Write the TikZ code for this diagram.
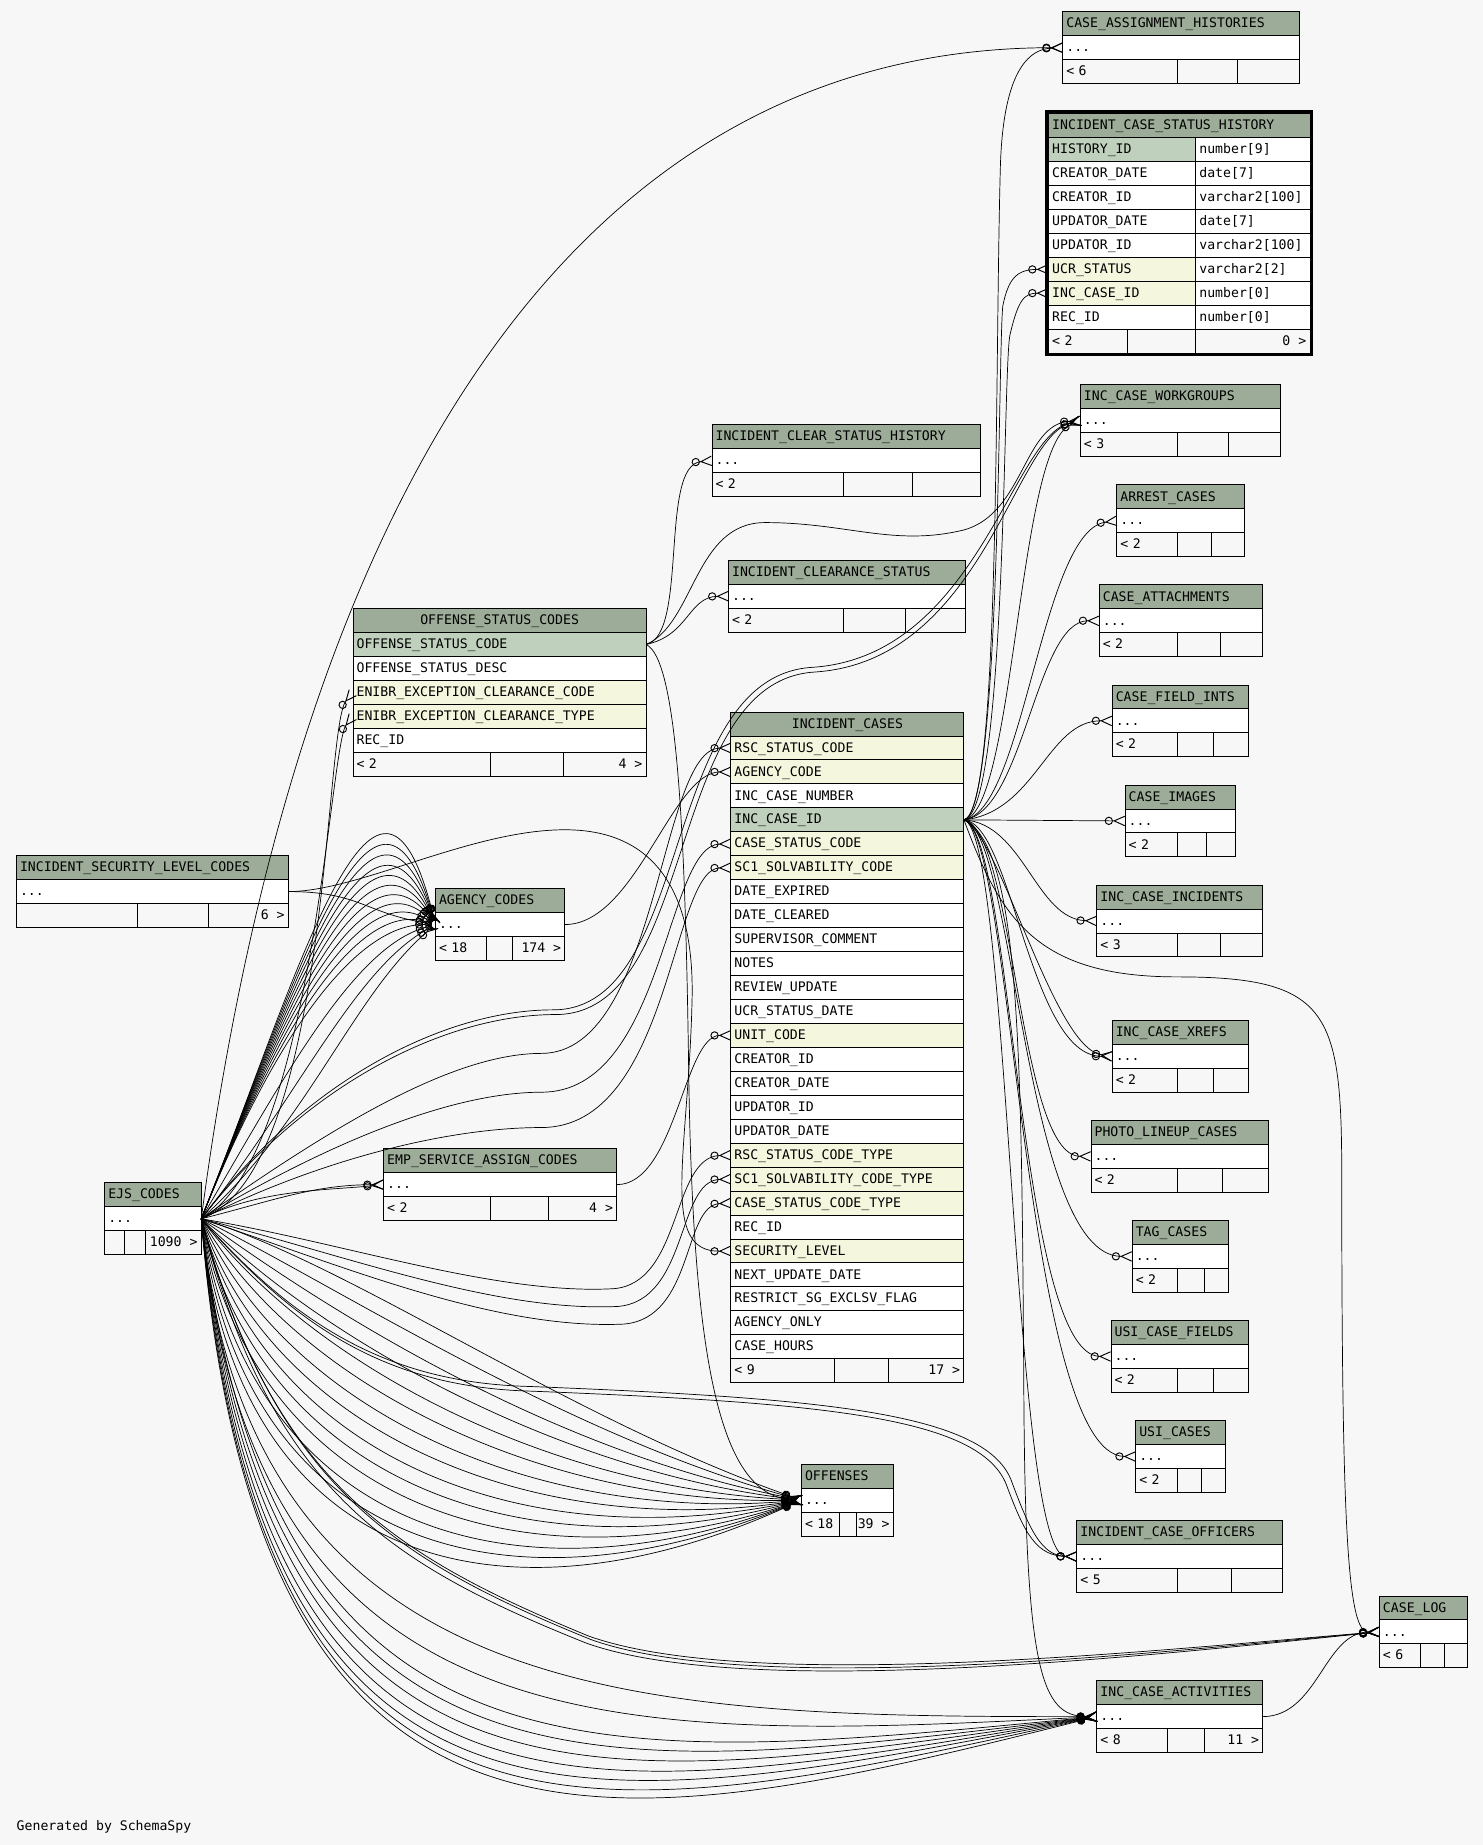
\documentclass[tikz,border=0pt]{standalone}
\usepackage{fontspec}
\setmonofont{DejaVu Sans Mono}
\usetikzlibrary{arrows.meta}
\definecolor{bgc}{HTML}{F7F7F7}
\definecolor{hdrc}{HTML}{9DAC98}
\definecolor{pkc}{HTML}{BFD1BC}
\definecolor{fkc}{HTML}{F4F6DD}
\tikzset{
  cell/.style={draw, line width=0.8pt, fill=white, anchor=north west, outer sep=0pt,
    minimum height=20.35pt, inner xsep=3pt, inner ysep=0pt, text height=8pt, text depth=1pt,
    /utils/exec={\pgfmathsetlengthmacro\cellw{#1-6pt}}, text width=\cellw, align=left},
  hdr/.style={cell=#1, fill=hdrc},
  pk/.style={cell=#1, fill=pkc},
  fkrow/.style={cell=#1, fill=fkc},
  foot/.style={cell=#1, fill=bgc},
  rtext/.style={anchor=east, inner xsep=3pt, inner ysep=0pt, text height=8pt, text depth=1pt},
  divl/.style={line width=0.8pt},
  crow/.style={line width=0.6pt,
    -{Circle[open,length=7pt,width=7pt,line width=0.8pt]Straight Barb[reversed,length=9pt,width=8pt,line width=0.8pt]}}
}
\begin{document}
\begin{tikzpicture}[x=1pt, y=-1pt, font=\ttfamily\fontsize{11.2}{13}\selectfont]
  \useasboundingbox (0,0) rectangle (1260,1567.6);
  \fill[bgc] (0,0) rectangle (1260,1567.6);

  % CASE_ASSIGNMENT_HISTORIES
  \node[hdr=201] (cah1) at (903,10) {CASE\_ASSIGNMENT\_HISTORIES};
  \node[cell=201] (cah2) at (cah1.south west) {...};
  \node[foot=201] (cah3) at (cah2.south west) {< 6};
  \draw[divl] (1000,0 |- cah3.north) -- (1000,0 |- cah3.south);
  \draw[divl] (1051,0 |- cah3.north) -- (1051,0 |- cah3.south);

  % INCIDENT_CASE_STATUS_HISTORY
  \node[hdr=222] (icsh1) at (891,96.5) {INCIDENT\_CASE\_STATUS\_HISTORY};
  \node[pk=125] (icsh2) at (icsh1.south west) {HISTORY\_ID};
  \node[cell=97] (icsh2t) at (icsh2.north east) {number[9]};
  \node[cell=125] (icsh3) at (icsh2.south west) {CREATOR\_DATE};
  \node[cell=97] (icsh3t) at (icsh3.north east) {date[7]};
  \node[cell=125] (icsh4) at (icsh3.south west) {CREATOR\_ID};
  \node[cell=97] (icsh4t) at (icsh4.north east) {varchar2[100]};
  \node[cell=125] (icsh5) at (icsh4.south west) {UPDATOR\_DATE};
  \node[cell=97] (icsh5t) at (icsh5.north east) {date[7]};
  \node[cell=125] (icsh6) at (icsh5.south west) {UPDATOR\_ID};
  \node[cell=97] (icsh6t) at (icsh6.north east) {varchar2[100]};
  \node[fkrow=125] (icsh7) at (icsh6.south west) {UCR\_STATUS};
  \node[cell=97] (icsh7t) at (icsh7.north east) {varchar2[2]};
  \node[fkrow=125] (icsh8) at (icsh7.south west) {INC\_CASE\_ID};
  \node[cell=97] (icsh8t) at (icsh8.north east) {number[0]};
  \node[cell=125] (icsh9) at (icsh8.south west) {REC\_ID};
  \node[cell=97] (icsh9t) at (icsh9.north east) {number[0]};
  \node[foot=222] (icsh10) at (icsh9.south west) {< 2};
  \node[rtext] (icsh10r) at (icsh10.east) {0 >};
  \draw[divl] (958,0 |- icsh10.north) -- (958,0 |- icsh10.south);
  \draw[divl] (1016,0 |- icsh10.north) -- (1016,0 |- icsh10.south);
  \draw[line width=2.8pt] ([shift={(-1.4,-1.4)}]icsh1.north west) rectangle ([shift={(1.4,1.4)}]icsh10.south east);

  % INC_CASE_WORKGROUPS
  \node[hdr=170] (icw1) at (918,327) {INC\_CASE\_WORKGROUPS};
  \node[cell=170] (icw2) at (icw1.south west) {...};
  \node[foot=170] (icw3) at (icw2.south west) {< 3};
  \draw[divl] (1000,0 |- icw3.north) -- (1000,0 |- icw3.south);
  \draw[divl] (1044,0 |- icw3.north) -- (1044,0 |- icw3.south);

  % INCIDENT_CLEAR_STATUS_HISTORY
  \node[hdr=228] (iclsh1) at (605,361) {INCIDENT\_CLEAR\_STATUS\_HISTORY};
  \node[cell=228] (iclsh2) at (iclsh1.south west) {...};
  \node[foot=228] (iclsh3) at (iclsh2.south west) {< 2};
  \draw[divl] (717,0 |- iclsh3.north) -- (717,0 |- iclsh3.south);
  \draw[divl] (775,0 |- iclsh3.north) -- (775,0 |- iclsh3.south);

  % ARREST_CASES
  \node[hdr=108] (arrest1) at (949,412) {ARREST\_CASES};
  \node[cell=108] (arrest2) at (arrest1.south west) {...};
  \node[foot=108] (arrest3) at (arrest2.south west) {< 2};
  \draw[divl] (1000,0 |- arrest3.north) -- (1000,0 |- arrest3.south);
  \draw[divl] (1029,0 |- arrest3.north) -- (1029,0 |- arrest3.south);

  % INCIDENT_CLEARANCE_STATUS
  \node[hdr=201] (iclrs1) at (619,476) {INCIDENT\_CLEARANCE\_STATUS};
  \node[cell=201] (iclrs2) at (iclrs1.south west) {...};
  \node[foot=201] (iclrs3) at (iclrs2.south west) {< 2};
  \draw[divl] (717,0 |- iclrs3.north) -- (717,0 |- iclrs3.south);
  \draw[divl] (769,0 |- iclrs3.north) -- (769,0 |- iclrs3.south);

  % CASE_ATTACHMENTS
  \node[hdr=139] (catt1) at (934,497) {CASE\_ATTACHMENTS};
  \node[cell=139] (catt2) at (catt1.south west) {...};
  \node[foot=139] (catt3) at (catt2.south west) {< 2};
  \draw[divl] (1000,0 |- catt3.north) -- (1000,0 |- catt3.south);
  \draw[divl] (1037,0 |- catt3.north) -- (1037,0 |- catt3.south);

  % OFFENSE_STATUS_CODES
  \node[hdr=249, align=center] (osc1) at (300,517) {OFFENSE\_STATUS\_CODES};
  \node[pk=249] (osc2) at (osc1.south west) {OFFENSE\_STATUS\_CODE};
  \node[cell=249] (osc3) at (osc2.south west) {OFFENSE\_STATUS\_DESC};
  \node[fkrow=249] (osc4) at (osc3.south west) {ENIBR\_EXCEPTION\_CLEARANCE\_CODE};
  \node[fkrow=249] (osc5) at (osc4.south west) {ENIBR\_EXCEPTION\_CLEARANCE\_TYPE};
  \node[cell=249] (osc6) at (osc5.south west) {REC\_ID};
  \node[foot=249] (osc7) at (osc6.south west) {< 2};
  \node[rtext] (osc7r) at (osc7.east) {4 >};
  \draw[divl] (417,0 |- osc7.north) -- (417,0 |- osc7.south);
  \draw[divl] (479,0 |- osc7.north) -- (479,0 |- osc7.south);

  % CASE_FIELD_INTS
  \node[hdr=116] (cfi1) at (945,582) {CASE\_FIELD\_INTS};
  \node[cell=116] (cfi2) at (cfi1.south west) {...};
  \node[foot=116] (cfi3) at (cfi2.south west) {< 2};
  \draw[divl] (1000,0 |- cfi3.north) -- (1000,0 |- cfi3.south);
  \draw[divl] (1031,0 |- cfi3.north) -- (1031,0 |- cfi3.south);

  % INCIDENT_CASES
  \node[hdr=198, align=center] (ic1) at (621,605) {INCIDENT\_CASES};
  \node[fkrow=198] (ic2) at (ic1.south west) {RSC\_STATUS\_CODE};
  \node[fkrow=198] (ic3) at (ic2.south west) {AGENCY\_CODE};
  \node[cell=198] (ic4) at (ic3.south west) {INC\_CASE\_NUMBER};
  \node[pk=198] (ic5) at (ic4.south west) {INC\_CASE\_ID};
  \node[fkrow=198] (ic6) at (ic5.south west) {CASE\_STATUS\_CODE};
  \node[fkrow=198] (ic7) at (ic6.south west) {SC1\_SOLVABILITY\_CODE};
  \node[cell=198] (ic8) at (ic7.south west) {DATE\_EXPIRED};
  \node[cell=198] (ic9) at (ic8.south west) {DATE\_CLEARED};
  \node[cell=198] (ic10) at (ic9.south west) {SUPERVISOR\_COMMENT};
  \node[cell=198] (ic11) at (ic10.south west) {NOTES};
  \node[cell=198] (ic12) at (ic11.south west) {REVIEW\_UPDATE};
  \node[cell=198] (ic13) at (ic12.south west) {UCR\_STATUS\_DATE};
  \node[fkrow=198] (ic14) at (ic13.south west) {UNIT\_CODE};
  \node[cell=198] (ic15) at (ic14.south west) {CREATOR\_ID};
  \node[cell=198] (ic16) at (ic15.south west) {CREATOR\_DATE};
  \node[cell=198] (ic17) at (ic16.south west) {UPDATOR\_ID};
  \node[cell=198] (ic18) at (ic17.south west) {UPDATOR\_DATE};
  \node[fkrow=198] (ic19) at (ic18.south west) {RSC\_STATUS\_CODE\_TYPE};
  \node[fkrow=198] (ic20) at (ic19.south west) {SC1\_SOLVABILITY\_CODE\_TYPE};
  \node[fkrow=198] (ic21) at (ic20.south west) {CASE\_STATUS\_CODE\_TYPE};
  \node[cell=198] (ic22) at (ic21.south west) {REC\_ID};
  \node[fkrow=198] (ic23) at (ic22.south west) {SECURITY\_LEVEL};
  \node[cell=198] (ic24) at (ic23.south west) {NEXT\_UPDATE\_DATE};
  \node[cell=198] (ic25) at (ic24.south west) {RESTRICT\_SG\_EXCLSV\_FLAG};
  \node[cell=198] (ic26) at (ic25.south west) {AGENCY\_ONLY};
  \node[cell=198] (ic27) at (ic26.south west) {CASE\_HOURS};
  \node[foot=198] (ic28) at (ic27.south west) {< 9};
  \node[rtext] (ic28r) at (ic28.east) {17 >};
  \draw[divl] (709,0 |- ic28.north) -- (709,0 |- ic28.south);
  \draw[divl] (755,0 |- ic28.north) -- (755,0 |- ic28.south);

  % CASE_IMAGES
  \node[hdr=94] (cimg1) at (956,667) {CASE\_IMAGES};
  \node[cell=94] (cimg2) at (cimg1.south west) {...};
  \node[foot=94] (cimg3) at (cimg2.south west) {< 2};
  \draw[divl] (1000,0 |- cimg3.north) -- (1000,0 |- cimg3.south);
  \draw[divl] (1025,0 |- cimg3.north) -- (1025,0 |- cimg3.south);

  % INCIDENT_SECURITY_LEVEL_CODES
  \node[hdr=231] (islc1) at (14,727) {INCIDENT\_SECURITY\_LEVEL\_CODES};
  \node[cell=231] (islc2) at (islc1.south west) {...};
  \node[foot=231] (islc3) at (islc2.south west) {};
  \node[rtext] (islc3r) at (islc3.east) {6 >};
  \draw[divl] (117,0 |- islc3.north) -- (117,0 |- islc3.south);
  \draw[divl] (177,0 |- islc3.north) -- (177,0 |- islc3.south);

  % AGENCY_CODES
  \node[hdr=110] (agency1) at (370,755) {AGENCY\_CODES};
  \node[cell=110] (agency2) at (agency1.south west) {...};
  \node[foot=110] (agency3) at (agency2.south west) {< 18};
  \node[rtext] (agency3r) at (agency3.east) {174 >};
  \draw[divl] (413,0 |- agency3.north) -- (413,0 |- agency3.south);
  \draw[divl] (435,0 |- agency3.north) -- (435,0 |- agency3.south);

  % INC_CASE_INCIDENTS
  \node[hdr=141] (icinc1) at (932,752) {INC\_CASE\_INCIDENTS};
  \node[cell=141] (icinc2) at (icinc1.south west) {...};
  \node[foot=141] (icinc3) at (icinc2.south west) {< 3};
  \draw[divl] (1000,0 |- icinc3.north) -- (1000,0 |- icinc3.south);
  \draw[divl] (1037,0 |- icinc3.north) -- (1037,0 |- icinc3.south);

  % INC_CASE_XREFS
  \node[hdr=116] (ixref1) at (945,867) {INC\_CASE\_XREFS};
  \node[cell=116] (ixref2) at (ixref1.south west) {...};
  \node[foot=116] (ixref3) at (ixref2.south west) {< 2};
  \draw[divl] (1000,0 |- ixref3.north) -- (1000,0 |- ixref3.south);
  \draw[divl] (1031,0 |- ixref3.north) -- (1031,0 |- ixref3.south);

  % PHOTO_LINEUP_CASES
  \node[hdr=151] (plc1) at (927,952) {PHOTO\_LINEUP\_CASES};
  \node[cell=151] (plc2) at (plc1.south west) {...};
  \node[foot=151] (plc3) at (plc2.south west) {< 2};
  \draw[divl] (1000,0 |- plc3.north) -- (1000,0 |- plc3.south);
  \draw[divl] (1039,0 |- plc3.north) -- (1039,0 |- plc3.south);

  % EMP_SERVICE_ASSIGN_CODES
  \node[hdr=198] (esac1) at (326,976) {EMP\_SERVICE\_ASSIGN\_CODES};
  \node[cell=198] (esac2) at (esac1.south west) {...};
  \node[foot=198] (esac3) at (esac2.south west) {< 2};
  \node[rtext] (esac3r) at (esac3.east) {4 >};
  \draw[divl] (417,0 |- esac3.north) -- (417,0 |- esac3.south);
  \draw[divl] (466,0 |- esac3.north) -- (466,0 |- esac3.south);

  % EJS_CODES
  \node[hdr=82] (ejs1) at (89,1005) {EJS\_CODES};
  \node[cell=82] (ejs2) at (ejs1.south west) {...};
  \node[foot=82] (ejs3) at (ejs2.south west) {};
  \node[rtext] (ejs3r) at (ejs3.east) {1090 >};
  \draw[divl] (106,0 |- ejs3.north) -- (106,0 |- ejs3.south);
  \draw[divl] (124,0 |- ejs3.north) -- (124,0 |- ejs3.south);

  % TAG_CASES
  \node[hdr=82] (tag1) at (962,1037) {TAG\_CASES};
  \node[cell=82] (tag2) at (tag1.south west) {...};
  \node[foot=82] (tag3) at (tag2.south west) {< 2};
  \draw[divl] (1000,0 |- tag3.north) -- (1000,0 |- tag3.south);
  \draw[divl] (1023,0 |- tag3.north) -- (1023,0 |- tag3.south);

  % USI_CASE_FIELDS
  \node[hdr=117] (usicf1) at (944,1122) {USI\_CASE\_FIELDS};
  \node[cell=117] (usicf2) at (usicf1.south west) {...};
  \node[foot=117] (usicf3) at (usicf2.south west) {< 2};
  \draw[divl] (1000,0 |- usicf3.north) -- (1000,0 |- usicf3.south);
  \draw[divl] (1031,0 |- usicf3.north) -- (1031,0 |- usicf3.south);

  % USI_CASES
  \node[hdr=76] (usic1) at (965,1207) {USI\_CASES};
  \node[cell=76] (usic2) at (usic1.south west) {...};
  \node[foot=76] (usic3) at (usic2.south west) {< 2};
  \draw[divl] (1000,0 |- usic3.north) -- (1000,0 |- usic3.south);
  \draw[divl] (1021,0 |- usic3.north) -- (1021,0 |- usic3.south);

  % OFFENSES
  \node[hdr=78] (off1) at (681,1244) {OFFENSES};
  \node[cell=78] (off2) at (off1.south west) {...};
  \node[foot=78] (off3) at (off2.south west) {< 18};
  \node[rtext] (off3r) at (off3.east) {39 >};
  \draw[divl] (713,0 |- off3.north) -- (713,0 |- off3.south);
  \draw[divl] (728,0 |- off3.north) -- (728,0 |- off3.south);

  % INCIDENT_CASE_OFFICERS
  \node[hdr=175] (ico1) at (915,1292) {INCIDENT\_CASE\_OFFICERS};
  \node[cell=175] (ico2) at (ico1.south west) {...};
  \node[foot=175] (ico3) at (ico2.south west) {< 5};
  \draw[divl] (1000,0 |- ico3.north) -- (1000,0 |- ico3.south);
  \draw[divl] (1046,0 |- ico3.north) -- (1046,0 |- ico3.south);

  % CASE_LOG
  \node[hdr=75] (clog1) at (1172,1356) {CASE\_LOG};
  \node[cell=75] (clog2) at (clog1.south west) {...};
  \node[foot=75] (clog3) at (clog2.south west) {< 6};
  \draw[divl] (1207,0 |- clog3.north) -- (1207,0 |- clog3.south);
  \draw[divl] (1227,0 |- clog3.north) -- (1227,0 |- clog3.south);

  % INC_CASE_ACTIVITIES
  \node[hdr=141] (ica1) at (932,1428) {INC\_CASE\_ACTIVITIES};
  \node[cell=141] (ica2) at (ica1.south west) {...};
  \node[foot=141] (ica3) at (ica2.south west) {< 8};
  \node[rtext] (ica3r) at (ica3.east) {11 >};
  \draw[divl] (992,0 |- ica3.north) -- (992,0 |- ica3.south);
  \draw[divl] (1023,0 |- ica3.north) -- (1023,0 |- ica3.south);

  \node[anchor=west, inner sep=0pt] (gen) at (14,1552) {Generated by SchemaSpy};

  \begin{scope}[crow]
    % EJS_CODES children
    \draw (ejs2.east) .. controls +(80,-200) and +(-50,-200) .. (agency2.west);
    \draw (ejs2.east) .. controls +(78,-195) and +(-52,-180) .. (agency2.west);
    \draw (ejs2.east) .. controls +(76,-190) and +(-54,-160) .. (agency2.west);
    \draw (ejs2.east) .. controls +(74,-185) and +(-56,-140) .. (agency2.west);
    \draw (ejs2.east) .. controls +(72,-180) and +(-58,-120) .. (agency2.west);
    \draw (ejs2.east) .. controls +(70,-175) and +(-60,-100) .. (agency2.west);
    \draw (ejs2.east) .. controls +(68,-170) and +(-62,-80) .. (agency2.west);
    \draw (ejs2.east) .. controls +(66,-165) and +(-64,-60) .. (agency2.west);
    \draw (ejs2.east) .. controls +(64,-160) and +(-66,-40) .. (agency2.west);
    \draw (ejs2.east) .. controls +(62,-155) and +(-68,-20) .. (agency2.west);
    \draw (ejs2.east) .. controls +(60,-150) and +(-70,0) .. (agency2.west);
    \draw (ejs2.east) .. controls +(70,-120) and +(-70,20) .. (agency2.west);
    \draw (ejs2.east) .. controls +(80,-100) and +(-70,40) .. (agency2.west);
    \draw (ejs2.east) .. controls +(90,-80) and +(-70,60) .. (agency2.west);
    \draw (ejs2.east) .. controls +(110,-40) and +(-25,30) .. (osc4.west);
    \draw (ejs2.east) .. controls +(95,-50) and +(-20,25) .. (osc5.west);
    \draw (ejs2.east) .. controls +(84,-636) and +(-403,0) .. (cah2.west);
    \draw (ejs2.east) .. controls +(100,-70) and (380,895) .. (460,895) .. controls (560,895) and (560,636) .. (ic2.west);
    \draw (ejs2.east) .. controls +(100,-60) and (380,928) .. (460,928) .. controls (565,928) and (565,718) .. (ic6.west);
    \draw (ejs2.east) .. controls +(100,-50) and (380,958) .. (460,958) .. controls (570,958) and (570,738) .. (ic7.west);
    \draw (ejs2.east) .. controls +(120,20) and (420,1100) .. (520,1095) .. controls (580,1092) and (570,983) .. (ic19.west);
    \draw (ejs2.east) .. controls +(120,30) and (420,1115) .. (525,1110) .. controls (585,1105) and (575,1003) .. (ic20.west);
    \draw (ejs2.east) .. controls +(120,40) and (420,1130) .. (530,1125) .. controls (590,1120) and (580,1024) .. (ic21.west);
    \draw (ejs2.east) .. controls +(90,-120) and (380,858) .. (470,858) .. controls (590,858) and (560,575) .. (690,567) .. controls (830,558) and (860,370) .. (icw2.west);
    \draw (ejs2.east) .. controls +(92,-118) and (382,862) .. (472,862) .. controls (594,862) and (564,579) .. (692,571) .. controls (834,562) and (862,372) .. (icw2.west);
    \draw (ejs2.east) .. controls +(60,-15) and +(-60,0) .. (esac2.west);
    \draw (ejs2.east) .. controls +(50,-25) and +(-50,5) .. (esac2.west);
    \draw (ejs2.east) .. controls +(130,40) and +(-200,-70) .. (off2.west);
    \draw (ejs2.east) .. controls +(120,60) and +(-200,-55) .. (off2.west);
    \draw (ejs2.east) .. controls +(110,80) and +(-210,-40) .. (off2.west);
    \draw (ejs2.east) .. controls +(100,100) and +(-210,-25) .. (off2.west);
    \draw (ejs2.east) .. controls +(90,120) and +(-220,-10) .. (off2.west);
    \draw (ejs2.east) .. controls +(80,140) and +(-220,5) .. (off2.west);
    \draw (ejs2.east) .. controls +(70,160) and +(-230,20) .. (off2.west);
    \draw (ejs2.east) .. controls +(60,180) and +(-230,35) .. (off2.west);
    \draw (ejs2.east) .. controls +(55,200) and +(-240,50) .. (off2.west);
    \draw (ejs2.east) .. controls +(50,220) and +(-240,65) .. (off2.west);
    \draw (ejs2.east) .. controls +(45,240) and +(-240,80) .. (off2.west);
    \draw (ejs2.east) .. controls +(40,260) and +(-250,95) .. (off2.west);
    \draw (ejs2.east) .. controls +(35,280) and +(-250,105) .. (off2.west);
    \draw (ejs2.east) .. controls +(30,300) and +(-250,115) .. (off2.west);
    \draw (ejs2.east) .. controls +(80,90) and (330,1175) .. (450,1178) .. controls (700,1188) and (840,1200) .. (860,1260) .. controls (875,1300) and (885,1322) .. (ico2.west);
    \draw (ejs2.east) .. controls +(82,94) and (332,1179) .. (452,1182) .. controls (702,1192) and (836,1204) .. (856,1264) .. controls (871,1304) and (881,1322) .. (ico2.west);
    \draw (ejs2.east) .. controls +(60,220) and (330,1320) .. (500,1390) .. controls (640,1440) and (1000,1400) .. (clog2.west);
    \draw (ejs2.east) .. controls +(62,224) and (332,1324) .. (502,1393) .. controls (642,1443) and (1000,1402) .. (clog2.west);
    \draw (ejs2.east) .. controls +(58,228) and (328,1328) .. (498,1396) .. controls (638,1446) and (1000,1404) .. (clog2.west);
    \draw (ejs2.east) .. controls +(60,500) and +(-420,40) .. (ica2.west);
    \draw (ejs2.east) .. controls +(58,520) and +(-420,50) .. (ica2.west);
    \draw (ejs2.east) .. controls +(56,540) and +(-420,60) .. (ica2.west);
    \draw (ejs2.east) .. controls +(54,560) and +(-420,70) .. (ica2.west);
    \draw (ejs2.east) .. controls +(52,575) and +(-420,80) .. (ica2.west);
    \draw (ejs2.east) .. controls +(50,590) and +(-410,90) .. (ica2.west);
    \draw (ejs2.east) .. controls +(48,600) and +(-400,100) .. (ica2.west);
    \draw (ejs2.east) .. controls +(45,460) and +(-400,20) .. (ica2.west);
    \draw (ejs2.east) .. controls +(40,420) and +(-380,0) .. (ica2.west);
    % other parents
    \draw (islc2.east) .. controls +(60,0) and +(-60,-10) .. (agency2.west);
    \draw (islc2.east) .. controls +(60,0) and (400,705) .. (480,705) .. controls (565,705) and (590,770) .. (588,850) .. controls (585,980) and (560,1064) .. (ic23.west);
    \draw (agency2.east) .. controls +(60,0) and +(-50,0) .. (ic3.west);
    \draw (esac2.east) .. controls +(50,0) and +(-40,0) .. (ic14.west);
    \draw (osc2.east) .. controls (585,540) and (560,395) .. (iclsh2.west);
    \draw (osc2.east) .. controls (585,540) and (585,507) .. (iclrs2.west);
    \draw (osc2.east) .. controls (590,530) and (590,444) .. (650,444) .. controls (720,444) and (760,465) .. (820,450) .. controls (870,435) and (870,360) .. (icw2.west);
    \draw (osc2.east) .. controls (575,560) and (582,700) .. (585,900) .. controls (588,1150) and (610,1270) .. (off2.west);
    % INCIDENT_CASES children
    \draw (ic5.east) .. controls (850,690) and (845,320) .. (850,140) .. controls (852,80) and (865,42) .. (cah2.west);
    \draw (ic5.east) .. controls (850,690) and (848,300) .. (852,260) .. controls (857,235) and (865,229) .. (icsh7.west);
    \draw (ic5.east) .. controls (855,690) and (852,320) .. (858,285) .. controls (865,255) and (870,249) .. (icsh8.west);
    \draw (ic5.east) .. controls (862,690) and (865,380) .. (icw2.west);
    \draw (ic5.east) .. controls (870,690) and (885,450) .. (arrest2.west);
    \draw (ic5.east) .. controls (870,690) and (880,527) .. (catt2.west);
    \draw (ic5.east) .. controls (880,690) and (890,612) .. (cfi2.west);
    \draw (ic5.east) -- (cimg2.west);
    \draw (ic5.east) .. controls (870,700) and (880,781) .. (icinc2.west);
    \draw (ic5.east) .. controls (860,700) and (875,897) .. (ixref2.west);
    \draw (ic5.east) .. controls (850,710) and (895,890) .. (ixref2.west);
    \draw (ic5.east) .. controls (862,705) and (865,982) .. (plc2.west);
    \draw (ic5.east) .. controls (862,705) and (870,1067) .. (tag2.west);
    \draw (ic5.east) .. controls (860,705) and (865,1152) .. (usicf2.west);
    \draw (ic5.east) .. controls (860,705) and (870,1237) .. (usic2.west);
    \draw (ic5.east) .. controls (858,705) and (860,1322) .. (ico2.west);
    \draw (ic5.east) .. controls (850,780) and (880,830) .. (1000,830) .. controls (1130,830) and (1140,860) .. (1140,1000) .. controls (1140,1300) and (1145,1387) .. (clog2.west);
    \draw (ic5.east) .. controls (868,720) and (868,900) .. (870,1200) .. controls (872,1420) and (885,1458) .. (ica2.west);
    \draw (ica2.east) .. controls (1120,1458) and (1125,1387) .. (clog2.west);
  \end{scope}
\end{tikzpicture}
\end{document}
